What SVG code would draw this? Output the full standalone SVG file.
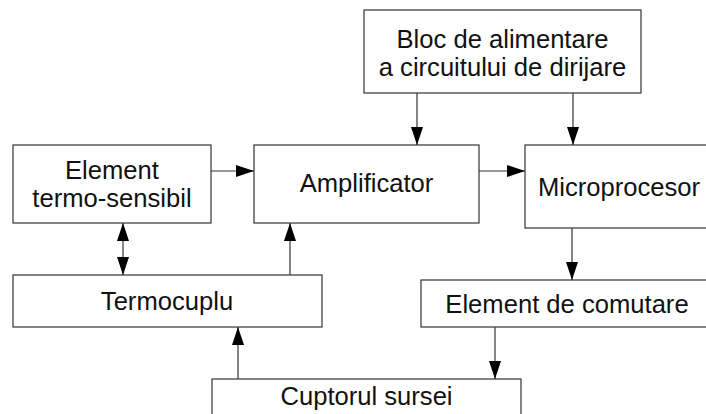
<svg xmlns="http://www.w3.org/2000/svg" width="706" height="414" viewBox="0 0 706 414">
<style>
.box{fill:#fff;stroke:#333;stroke-width:1.2}
.lbl{font-family:"Liberation Sans",Arial,sans-serif;font-size:25.6px;fill:#111;text-anchor:middle}
.c{stroke:#333;stroke-width:1.2;fill:none}
</style>
<defs>
<marker id="ah" viewBox="0 0 18 12" refX="18" refY="6" markerWidth="18" markerHeight="12" markerUnits="userSpaceOnUse" orient="auto-start-reverse">
<path d="M0,0 L18,6 L0,12 Z" fill="#000"/>
</marker>
</defs>
<rect width="706" height="414" fill="#fff"/>
<g id="bloc"><rect class="box" x="364" y="10" width="277" height="83"/>
<text class="lbl" x="502.5" y="48">Bloc de alimentare</text>
<text class="lbl" x="502.5" y="76">a circuitului de dirijare</text></g>
<g id="element"><rect class="box" x="13" y="145" width="198" height="78"/>
<text class="lbl" x="112" y="179">Element</text>
<text class="lbl" x="112" y="207">termo-sensibil</text></g>
<g id="amplificator"><rect class="box" x="254" y="145" width="225" height="78"/>
<text class="lbl" x="366.5" y="192">Amplificator</text></g>
<g id="microprocesor"><rect class="box" x="525" y="145" width="195" height="83"/>
<text class="lbl" x="619" y="196">Microprocesor</text></g>
<g id="termocuplu"><rect class="box" x="13" y="275" width="309" height="52"/>
<text class="lbl" x="167" y="310">Termocuplu</text></g>
<g id="comutare"><rect class="box" x="421" y="280" width="300" height="47"/>
<text class="lbl" x="567" y="313">Element de comutare</text></g>
<g id="cuptor"><rect class="box" x="212" y="379" width="309" height="50"/>
<text class="lbl" x="366.5" y="405">Cuptorul sursei</text></g>
<g id="connectors">
<line class="c" x1="417" y1="93" x2="417" y2="145" marker-end="url(#ah)"/>
<line class="c" x1="573" y1="93" x2="573" y2="145" marker-end="url(#ah)"/>
<line class="c" x1="211" y1="171" x2="254" y2="171" marker-end="url(#ah)"/>
<line class="c" x1="479" y1="171" x2="525" y2="171" marker-end="url(#ah)"/>
<line class="c" x1="123" y1="223" x2="123" y2="275" marker-start="url(#ah)" marker-end="url(#ah)"/>
<line class="c" x1="290" y1="275" x2="290" y2="223" marker-end="url(#ah)"/>
<line class="c" x1="572" y1="228" x2="572" y2="280" marker-end="url(#ah)"/>
<line class="c" x1="238" y1="379" x2="238" y2="327" marker-end="url(#ah)"/>
<line class="c" x1="495" y1="327" x2="495" y2="379" marker-end="url(#ah)"/>
</g>
</svg>
